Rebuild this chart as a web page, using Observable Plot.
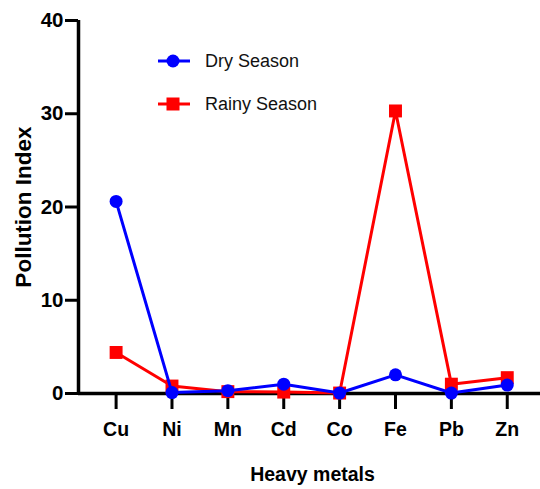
<!DOCTYPE html>
<html>
<head>
<meta charset="utf-8">
<script src="https://cdn.jsdelivr.net/npm/d3@7"></script>
<script src="https://cdn.jsdelivr.net/npm/@observablehq/plot@0.6"></script>
<style>
  html, body { margin: 0; padding: 0; background: #fff; }
  #wrap { position: relative; width: 540px; height: 489px; font-family: "Liberation Sans", Arial, sans-serif; }
  .legend { position: absolute; left: 157px; font-size: 18px; color: #111; display: flex; align-items: center; }
  .legend svg { margin-right: 14px; }
</style>
</head>
<body>
<div id="wrap"></div>
<script>
const metals = ["Cu", "Ni", "Mn", "Cd", "Co", "Fe", "Pb", "Zn"];
const drySeason = [20.6, 0.1, 0.3, 1.0, 0.05, 2.0, 0.05, 0.9];
const rainySeason = [4.4, 0.8, 0.2, 0.15, 0.05, 30.3, 1.0, 1.7];
const yTicks = [0, 10, 20, 30, 40];

const dry = metals.map((m, i) => ({i, metal: m, value: drySeason[i]}));
const rainy = metals.map((m, i) => ({i, metal: m, value: rainySeason[i]}));

const chart = Plot.plot({
  width: 540,
  height: 489,
  marginLeft: 78,
  marginRight: 0,
  marginTop: 20,
  marginBottom: 96,
  style: {fontFamily: "'Liberation Sans', Arial, sans-serif", background: "#fff"},
  x: {domain: [-0.673, 7.595], axis: null},
  y: {domain: [0, 40], axis: null},
  marks: [
    Plot.axisY({ticks: yTicks, tickSize: 13, tickPadding: 2, strokeWidth: 3, fontSize: 20.5, fontWeight: "bold", fill: "#000", label: null}),
    Plot.axisX({ticks: d3.range(metals.length), tickFormat: i => metals[i], tickSize: 16, tickPadding: 13, strokeWidth: 3, fontSize: 19.5, fontWeight: "bold", fill: "#000", label: null}),
    Plot.ruleX([-0.673], {y1: 0, y2: 40, stroke: "#000", strokeWidth: 3.5}),
    Plot.ruleY([0], {x1: -0.673, x2: 7.595, stroke: "#000", strokeWidth: 3.5}),
    Plot.line(rainy, {x: "i", y: "value", stroke: "#ff0000", strokeWidth: 3}),
    Plot.dot(rainy, {x: "i", y: "value", symbol: "square", r: 7.3, fill: "#ff0000"}),
    Plot.line(dry, {x: "i", y: "value", stroke: "#0000ff", strokeWidth: 3}),
    Plot.dot(dry, {x: "i", y: "value", symbol: "circle", r: 6.5, fill: "#0000ff"}),
    Plot.text(["Pollution Index"], {frameAnchor: "left", textAnchor: "middle", lineAnchor: "middle", dx: -55, rotate: -90, fontSize: 22.5, fontWeight: "bold", fill: "#000"}),
    Plot.text(["Heavy metals"], {frameAnchor: "bottom", lineAnchor: "middle", dy: 81, dx: 3, fontSize: 19.5, fontWeight: "bold", fill: "#000"})
  ]
});

const wrap = document.getElementById("wrap");
wrap.appendChild(chart);

const legendItems = [
  {label: "Dry Season", color: "#0000ff", shape: "circle", top: 48},
  {label: "Rainy Season", color: "#ff0000", shape: "square", top: 91}
];
for (const it of legendItems) {
  const div = document.createElement("div");
  div.className = "legend";
  div.style.top = it.top + "px";
  const sym = it.shape === "circle"
    ? `<circle cx="16" cy="13" r="6.5" fill="${it.color}"/>`
    : `<rect x="9.5" y="6.5" width="13" height="13" fill="${it.color}"/>`;
  div.innerHTML = `<svg width="34" height="26"><line x1="1" x2="33" y1="13" y2="13" stroke="${it.color}" stroke-width="3"/>${sym}</svg><span>${it.label}</span>`;
  wrap.appendChild(div);
}
</script>
</body>
</html>
